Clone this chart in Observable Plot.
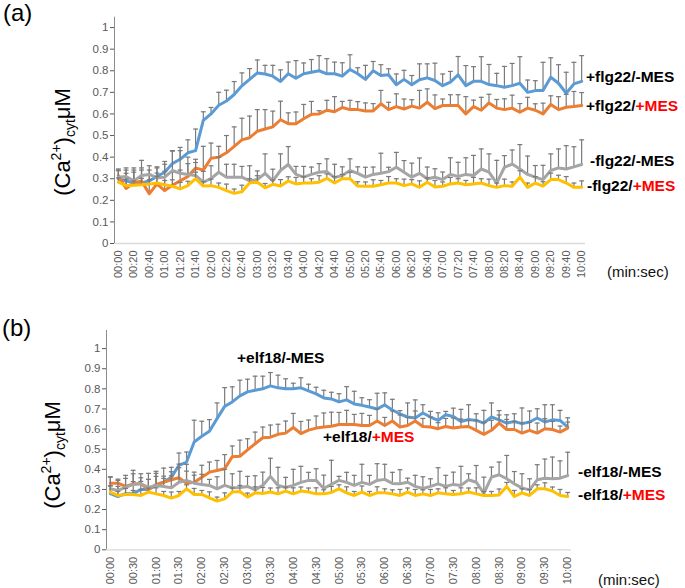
<!DOCTYPE html>
<html><head><meta charset="utf-8">
<script src="https://cdn.jsdelivr.net/npm/d3@7"></script>
<script src="https://cdn.jsdelivr.net/npm/@observablehq/plot@0.6"></script>
<style>
html,body{margin:0;padding:0;background:#fff;}
#wrap{position:relative;width:685px;height:588px;overflow:hidden;font-family:"Liberation Sans",Arial,sans-serif;}
#wrap svg{position:absolute;left:0;}
</style></head><body><div id="wrap"></div>
<script>
// time points: 00:00 .. 10:00, every 10 s
const timeSec = d3.range(0, 601, 10);
const xTicksA = d3.range(0, 601, 20);
const xTicksB = d3.range(0, 601, 30);
const yTicks = [0, 0.1, 0.2, 0.3, 0.4, 0.5, 0.6, 0.7, 0.8, 0.9, 1];

const seriesColors = ["#5B9BD5", "#ED7D31", "#A5A5A5", "#FFC000"];
const labelsA = ["+flg22/-MES", "+flg22/+MES", "-flg22/-MES", "-flg22/+MES"];
const labelsB = ["+elf18/-MES", "+elf18/+MES", "-elf18/-MES", "-elf18/+MES"];

// ---- panel (a) ----
const aPlusMinus = [0.30,0.29,0.28,0.28,0.29,0.31,0.33,0.37,0.39,0.42,
 0.43,0.57,0.60,0.64,0.66,0.69,0.73,0.76,0.79,0.785,
 0.775,0.75,0.786,0.765,0.786,0.793,0.80,0.786,0.786,0.775,
 0.806,0.786,0.76,0.80,0.778,0.781,0.735,0.76,0.735,0.758,
 0.767,0.755,0.731,0.747,0.781,0.731,0.751,0.751,0.736,0.731,
 0.724,0.731,0.742,0.70,0.708,0.708,0.77,0.742,0.696,0.739,
 0.751];
const aPlusMinusErr = [0.04,0.05,0.05,0.06,0.05,0.04,0.05,0.06,0.04,0.06,
 0.10,0.04,0.03,0.06,0.05,0.06,0.06,0.05,0.06,0.04,
 0.05,0.054,0.054,0.082,0.05,0.059,0.07,0.07,0.054,0.062,
 0.068,0.028,0.065,0.043,0.05,0.028,0.05,0.042,0.043,0.074,
 0.065,0.08,0.054,0.05,0.085,0.093,0.068,0.114,0.093,0.057,
 0.096,0.103,0.123,0.057,0.046,0.131,0.09,0.086,0.097,0.10,
 0.119];
const aPlusPlus = [0.315,0.255,0.28,0.29,0.23,0.276,0.245,0.27,0.29,0.31,
 0.35,0.34,0.395,0.40,0.42,0.45,0.48,0.49,0.52,0.53,
 0.54,0.573,0.555,0.555,0.578,0.598,0.60,0.617,0.61,0.63,
 0.62,0.62,0.614,0.614,0.647,0.62,0.634,0.623,0.636,0.627,
 0.654,0.625,0.639,0.639,0.639,0.60,0.634,0.617,0.651,0.627,
 0.62,0.627,0.608,0.627,0.617,0.60,0.644,0.62,0.631,0.634,
 0.639];
const aPlusPlusErr = [0.03,0.07,0.06,0.06,0.09,0.05,0.09,0.06,0.05,0.06,
 0.04,0.11,0.07,0.05,0.08,0.09,0.10,0.10,0.10,0.09,
 0.073,0.086,0.05,0.054,0.066,0.06,0.015,0.046,0.07,0.028,
 0.043,0.037,0.037,0.034,0.062,0.034,0.059,0.046,0.03,0.082,
 0.062,0.063,0.03,0.05,0.05,0.08,0.03,0.06,0.04,0.04,
 0.05,0.06,0.04,0.05,0.03,0.05,0.04,0.06,0.06,0.07,
 0.06];
const aMinusMinus = [0.307,0.31,0.29,0.315,0.32,0.305,0.307,0.338,0.325,0.32,
 0.315,0.284,0.30,0.33,0.307,0.307,0.307,0.29,0.296,0.325,
 0.29,0.338,0.366,0.32,0.307,0.32,0.33,0.333,0.305,0.315,
 0.338,0.325,0.307,0.32,0.325,0.333,0.353,0.33,0.307,0.325,
 0.30,0.307,0.296,0.32,0.31,0.32,0.315,0.345,0.33,0.28,
 0.353,0.368,0.345,0.32,0.307,0.296,0.338,0.35,0.345,0.355,
 0.366];
const aMinusMinusErr = [0.03,0.04,0.06,0.07,0.04,0.05,0.06,0.09,0.12,0.08,
 0.06,0.05,0.06,0.07,0.06,0.06,0.05,0.07,0.04,0.09,
 0.054,0.077,0.083,0.037,0.05,0.034,0.04,0.059,0.062,0.04,
 0.054,0.03,0.046,0.034,0.093,0.02,0.069,0.054,0.065,0.071,
 0.054,0.039,0.035,0.077,0.066,0.077,0.093,0.093,0.085,0.105,
 0.054,0.065,0.113,0.085,0.054,0.066,0.077,0.088,0.108,0.093,
 0.114];
const aMinusPlus = [0.284,0.268,0.27,0.272,0.275,0.28,0.272,0.265,0.253,0.268,
 0.30,0.266,0.268,0.26,0.245,0.232,0.24,0.28,0.284,0.258,
 0.274,0.266,0.289,0.276,0.28,0.28,0.284,0.302,0.28,0.30,
 0.30,0.266,0.265,0.265,0.272,0.28,0.28,0.268,0.276,0.26,
 0.284,0.262,0.265,0.276,0.28,0.272,0.276,0.28,0.268,0.26,
 0.268,0.265,0.307,0.26,0.28,0.266,0.296,0.296,0.28,0.26,
 0.26];
const aMinusPlusErr = [0.02,0.03,0.02,0.03,0.02,0.03,0.02,0.03,0.03,0.02,
 0.03,0.02,0.03,0.02,0.03,0.02,0.03,0.02,0.03,0.02,
 0.02,0.03,0.02,0.03,0.03,0.02,0.03,0.02,0.03,0.02,
 0.03,0.02,0.02,0.03,0.02,0.03,0.02,0.03,0.02,0.03,
 0.02,0.03,0.02,0.03,0.02,0.02,0.03,0.02,0.03,0.02,
 0.03,0.02,0.03,0.02,0.03,0.02,0.03,0.02,0.03,0.02,
 0.03];

// ---- panel (b) ----
const bPlusMinus = [0.279,0.265,0.279,0.279,0.30,0.30,0.32,0.336,0.36,0.42,
 0.436,0.536,0.564,0.589,0.652,0.713,0.735,0.765,0.785,0.793,
 0.80,0.815,0.805,0.80,0.80,0.805,0.79,0.775,0.755,0.75,
 0.735,0.745,0.725,0.718,0.71,0.70,0.72,0.695,0.675,0.66,
 0.655,0.68,0.66,0.643,0.671,0.663,0.638,0.648,0.643,0.63,
 0.66,0.646,0.63,0.638,0.627,0.635,0.655,0.635,0.646,0.643,
 0.61];
const bPlusMinusErr = [0.04,0.05,0.04,0.06,0.04,0.05,0.06,0.07,0.05,0.061,
 0.05,0.108,0.075,0.058,0.078,0.093,0.075,0.078,0.063,0.07,
 0.063,0.066,0.063,0.05,0.028,0.05,0.033,0.033,0.038,0.033,
 0.041,0.066,0.063,0.038,0.036,0.078,0.06,0.053,0.017,0.07,
 0.09,0.041,0.028,0.038,0.017,0.041,0.06,0.073,0.033,0.063,
 0.07,0.046,0.041,0.038,0.078,0.055,0.046,0.086,0.075,0.05,
 0.046];
const bPlusPlus = [0.331,0.331,0.315,0.328,0.328,0.30,0.325,0.336,0.348,0.358,
 0.331,0.336,0.36,0.386,0.394,0.403,0.463,0.465,0.497,0.527,
 0.557,0.56,0.574,0.58,0.608,0.578,0.595,0.605,0.61,0.614,
 0.623,0.623,0.623,0.618,0.618,0.64,0.618,0.64,0.61,0.618,
 0.64,0.613,0.61,0.602,0.613,0.605,0.61,0.613,0.594,0.574,
 0.594,0.63,0.598,0.598,0.58,0.594,0.58,0.602,0.598,0.585,
 0.605];
const bPlusPlusErr = [0.03,0.02,0.04,0.05,0.03,0.05,0.04,0.03,0.04,0.05,
 0.06,0.05,0.06,0.05,0.05,0.07,0.053,0.08,0.055,0.058,
 0.053,0.06,0.05,0.06,0.07,0.06,0.05,0.06,0.07,0.07,
 0.06,0.07,0.05,0.06,0.05,0.06,0.04,0.05,0.06,0.04,
 0.05,0.04,0.05,0.03,0.04,0.05,0.04,0.03,0.05,0.06,
 0.05,0.04,0.05,0.04,0.05,0.04,0.05,0.05,0.04,0.03,
 0.03];
const bMinusMinus = [0.303,0.295,0.31,0.325,0.328,0.31,0.32,0.315,0.308,0.336,
 0.345,0.331,0.325,0.32,0.303,0.32,0.308,0.31,0.315,0.298,
 0.32,0.365,0.32,0.31,0.32,0.335,0.345,0.345,0.305,0.325,
 0.345,0.335,0.32,0.335,0.325,0.345,0.35,0.33,0.328,0.336,
 0.315,0.305,0.315,0.328,0.315,0.325,0.32,0.348,0.336,0.281,
 0.361,0.373,0.353,0.328,0.308,0.298,0.348,0.356,0.353,0.356,
 0.369];
const bMinusMinusErr = [0.06,0.05,0.06,0.07,0.05,0.07,0.07,0.04,0.06,0.09,
 0.08,0.04,0.05,0.03,0.06,0.08,0.07,0.08,0.05,0.07,
 0.066,0.09,0.09,0.05,0.08,0.08,0.04,0.058,0.066,0.12,
 0.02,0.05,0.05,0.09,0.045,0.083,0.075,0.055,0.07,0.02,
 0.055,0.058,0.038,0.08,0.055,0.061,0.095,0.03,0.083,0.08,
 0.05,0.063,0.116,0.061,0.07,0.055,0.075,0.095,0.108,0.086,
 0.116];
const bMinusPlus = [0.287,0.27,0.275,0.275,0.27,0.287,0.278,0.27,0.257,0.27,
 0.303,0.275,0.275,0.258,0.242,0.253,0.287,0.29,0.262,0.283,
 0.28,0.287,0.278,0.292,0.278,0.292,0.287,0.278,0.278,0.285,
 0.303,0.283,0.27,0.287,0.27,0.283,0.283,0.278,0.27,0.287,
 0.27,0.278,0.27,0.283,0.278,0.275,0.278,0.287,0.278,0.27,
 0.27,0.272,0.315,0.265,0.283,0.27,0.303,0.303,0.292,0.27,
 0.265];
const bMinusPlusErr = [0.03,0.02,0.03,0.02,0.03,0.02,0.03,0.02,0.03,0.02,
 0.02,0.03,0.02,0.03,0.02,0.03,0.02,0.03,0.02,0.03,
 0.03,0.02,0.03,0.02,0.03,0.02,0.02,0.03,0.02,0.03,
 0.02,0.03,0.02,0.03,0.02,0.03,0.02,0.02,0.03,0.02,
 0.03,0.02,0.03,0.02,0.03,0.02,0.03,0.02,0.03,0.02,
 0.02,0.03,0.02,0.03,0.02,0.03,0.02,0.03,0.02,0.03,
 0.02];

function mmss(s) {
  return String(Math.floor(s / 60)).padStart(2, "0") + ":" + String(s % 60).padStart(2, "0");
}

const FONT = "Liberation Sans, Arial, sans-serif";

function buildPanel(cfg) {
  const marks = [
    Plot.ruleY([0], {stroke: "#d9d9d9", strokeWidth: 1.3}),
    Plot.ruleX([-5], {stroke: "#8c8c8c", strokeWidth: 1}),
    Plot.axisY(yTicks, {tickFormat: d => String(d), tickSize: 4, tickPadding: 2, color: "#595959", fontSize: 11.5, label: null}),
    Plot.axisX(cfg.xTicks, {tickFormat: mmss, tickRotate: -90, tickSize: 0, tickPadding: 7, color: "#595959", fontSize: 11, label: null})
  ];
  cfg.series.forEach((s, k) => {
    const rows = s.values.map((v, i) => ({t: timeSec[i], v, top: v + s.errs[i]}));
    marks.push(Plot.ruleX(rows, {x: "t", y1: "v", y2: "top", stroke: "#7a7a7a", strokeWidth: 1.2}));
    marks.push(Plot.link(rows, {x1: d => d.t - 3.2, x2: d => d.t + 3.2, y1: "top", y2: "top", stroke: "#7a7a7a", strokeWidth: 1.2}));
    marks.push(Plot.line(rows, {x: "t", y: "v", stroke: seriesColors[k], strokeWidth: 3, strokeLinejoin: "round"}));
  });
  const svg = Plot.plot({
    width: 685, height: cfg.height,
    marginLeft: cfg.marginLeft, marginRight: cfg.marginRight,
    marginTop: cfg.marginTop, marginBottom: cfg.marginBottom,
    x: {type: "linear", domain: [-5, 605]},
    y: {domain: [0, cfg.yMax]},
    style: {fontFamily: FONT, fontSize: "10px", background: "transparent", overflow: "visible"},
    marks
  });
  svg.style.top = cfg.top + "px";
  document.getElementById("wrap").appendChild(svg);
  const g = d3.select(svg).append("g").attr("text-anchor", "start").attr("font-family", FONT);

  // panel letter
  g.append("text").attr("x", cfg.letterPos[0]).attr("y", cfg.letterPos[1])
    .attr("font-size", 24).attr("fill", "#000").text(cfg.letter);

  // y axis title (Ca2+)cyt μM
  const yt = g.append("text")
    .attr("transform", `translate(${cfg.yTitlePos[0]},${cfg.yTitlePos[1]}) rotate(-90)`)
    .attr("text-anchor", "middle").attr("font-size", 22).attr("fill", "#000");
  yt.append("tspan").text("(Ca");
  yt.append("tspan").attr("font-size", 14).attr("dy", -9).text("2+");
  yt.append("tspan").attr("dy", 9).text(")");
  yt.append("tspan").attr("font-size", 14).attr("dy", 5).text("cyt");
  yt.append("tspan").attr("dy", -5).text("μM");

  // (min:sec)
  g.append("text").attr("x", cfg.unitPos[0]).attr("y", cfg.unitPos[1])
    .attr("font-size", 15).attr("fill", "#111").attr("dy", "0.35em").text("(min:sec)");

  // series labels
  cfg.labels.forEach((lab, k) => {
    const [pre, post] = lab.split("/");
    const t = g.append("text").attr("x", cfg.labelPos[k][0]).attr("y", cfg.labelPos[k][1]).attr("dy", "0.35em")
      .attr("font-size", 15.5).attr("font-weight", "bold").attr("fill", "#000");
    t.append("tspan").text(pre + "/");
    t.append("tspan").attr("fill", post === "+MES" ? "#ff0000" : "#000").text(post);
  });
}

buildPanel({
  top: 0, height: 295, marginLeft: 114, marginRight: 100, marginTop: 16.7, marginBottom: 52, yMax: 1.048,
  xTicks: xTicksA,
  series: [
    {values: aPlusMinus, errs: aPlusMinusErr},
    {values: aPlusPlus, errs: aPlusPlusErr},
    {values: aMinusMinus, errs: aMinusMinusErr},
    {values: aMinusPlus, errs: aMinusPlusErr}
  ],
  labels: labelsA,
  labelPos: [[586, 77], [586, 106], [590, 161], [587, 186]],
  letter: "(a)", letterPos: [3, 21],
  yTitlePos: [70, 142],
  unitPos: [607, 272]
});

buildPanel({
  top: 295, height: 293, marginLeft: 106, marginRight: 114, marginTop: 35, marginBottom: 38.7, yMax: 1.09,
  xTicks: xTicksB,
  series: [
    {values: bPlusMinus, errs: bPlusMinusErr},
    {values: bPlusPlus, errs: bPlusPlusErr},
    {values: bMinusMinus, errs: bMinusMinusErr},
    {values: bMinusPlus, errs: bMinusPlusErr}
  ],
  labels: labelsB,
  labelPos: [[237, 63], [323, 142], [578, 177], [578, 200]],
  letter: "(b)", letterPos: [2, 41],
  yTitlePos: [60, 160],
  unitPos: [598, 285]
});
</script></body></html>
